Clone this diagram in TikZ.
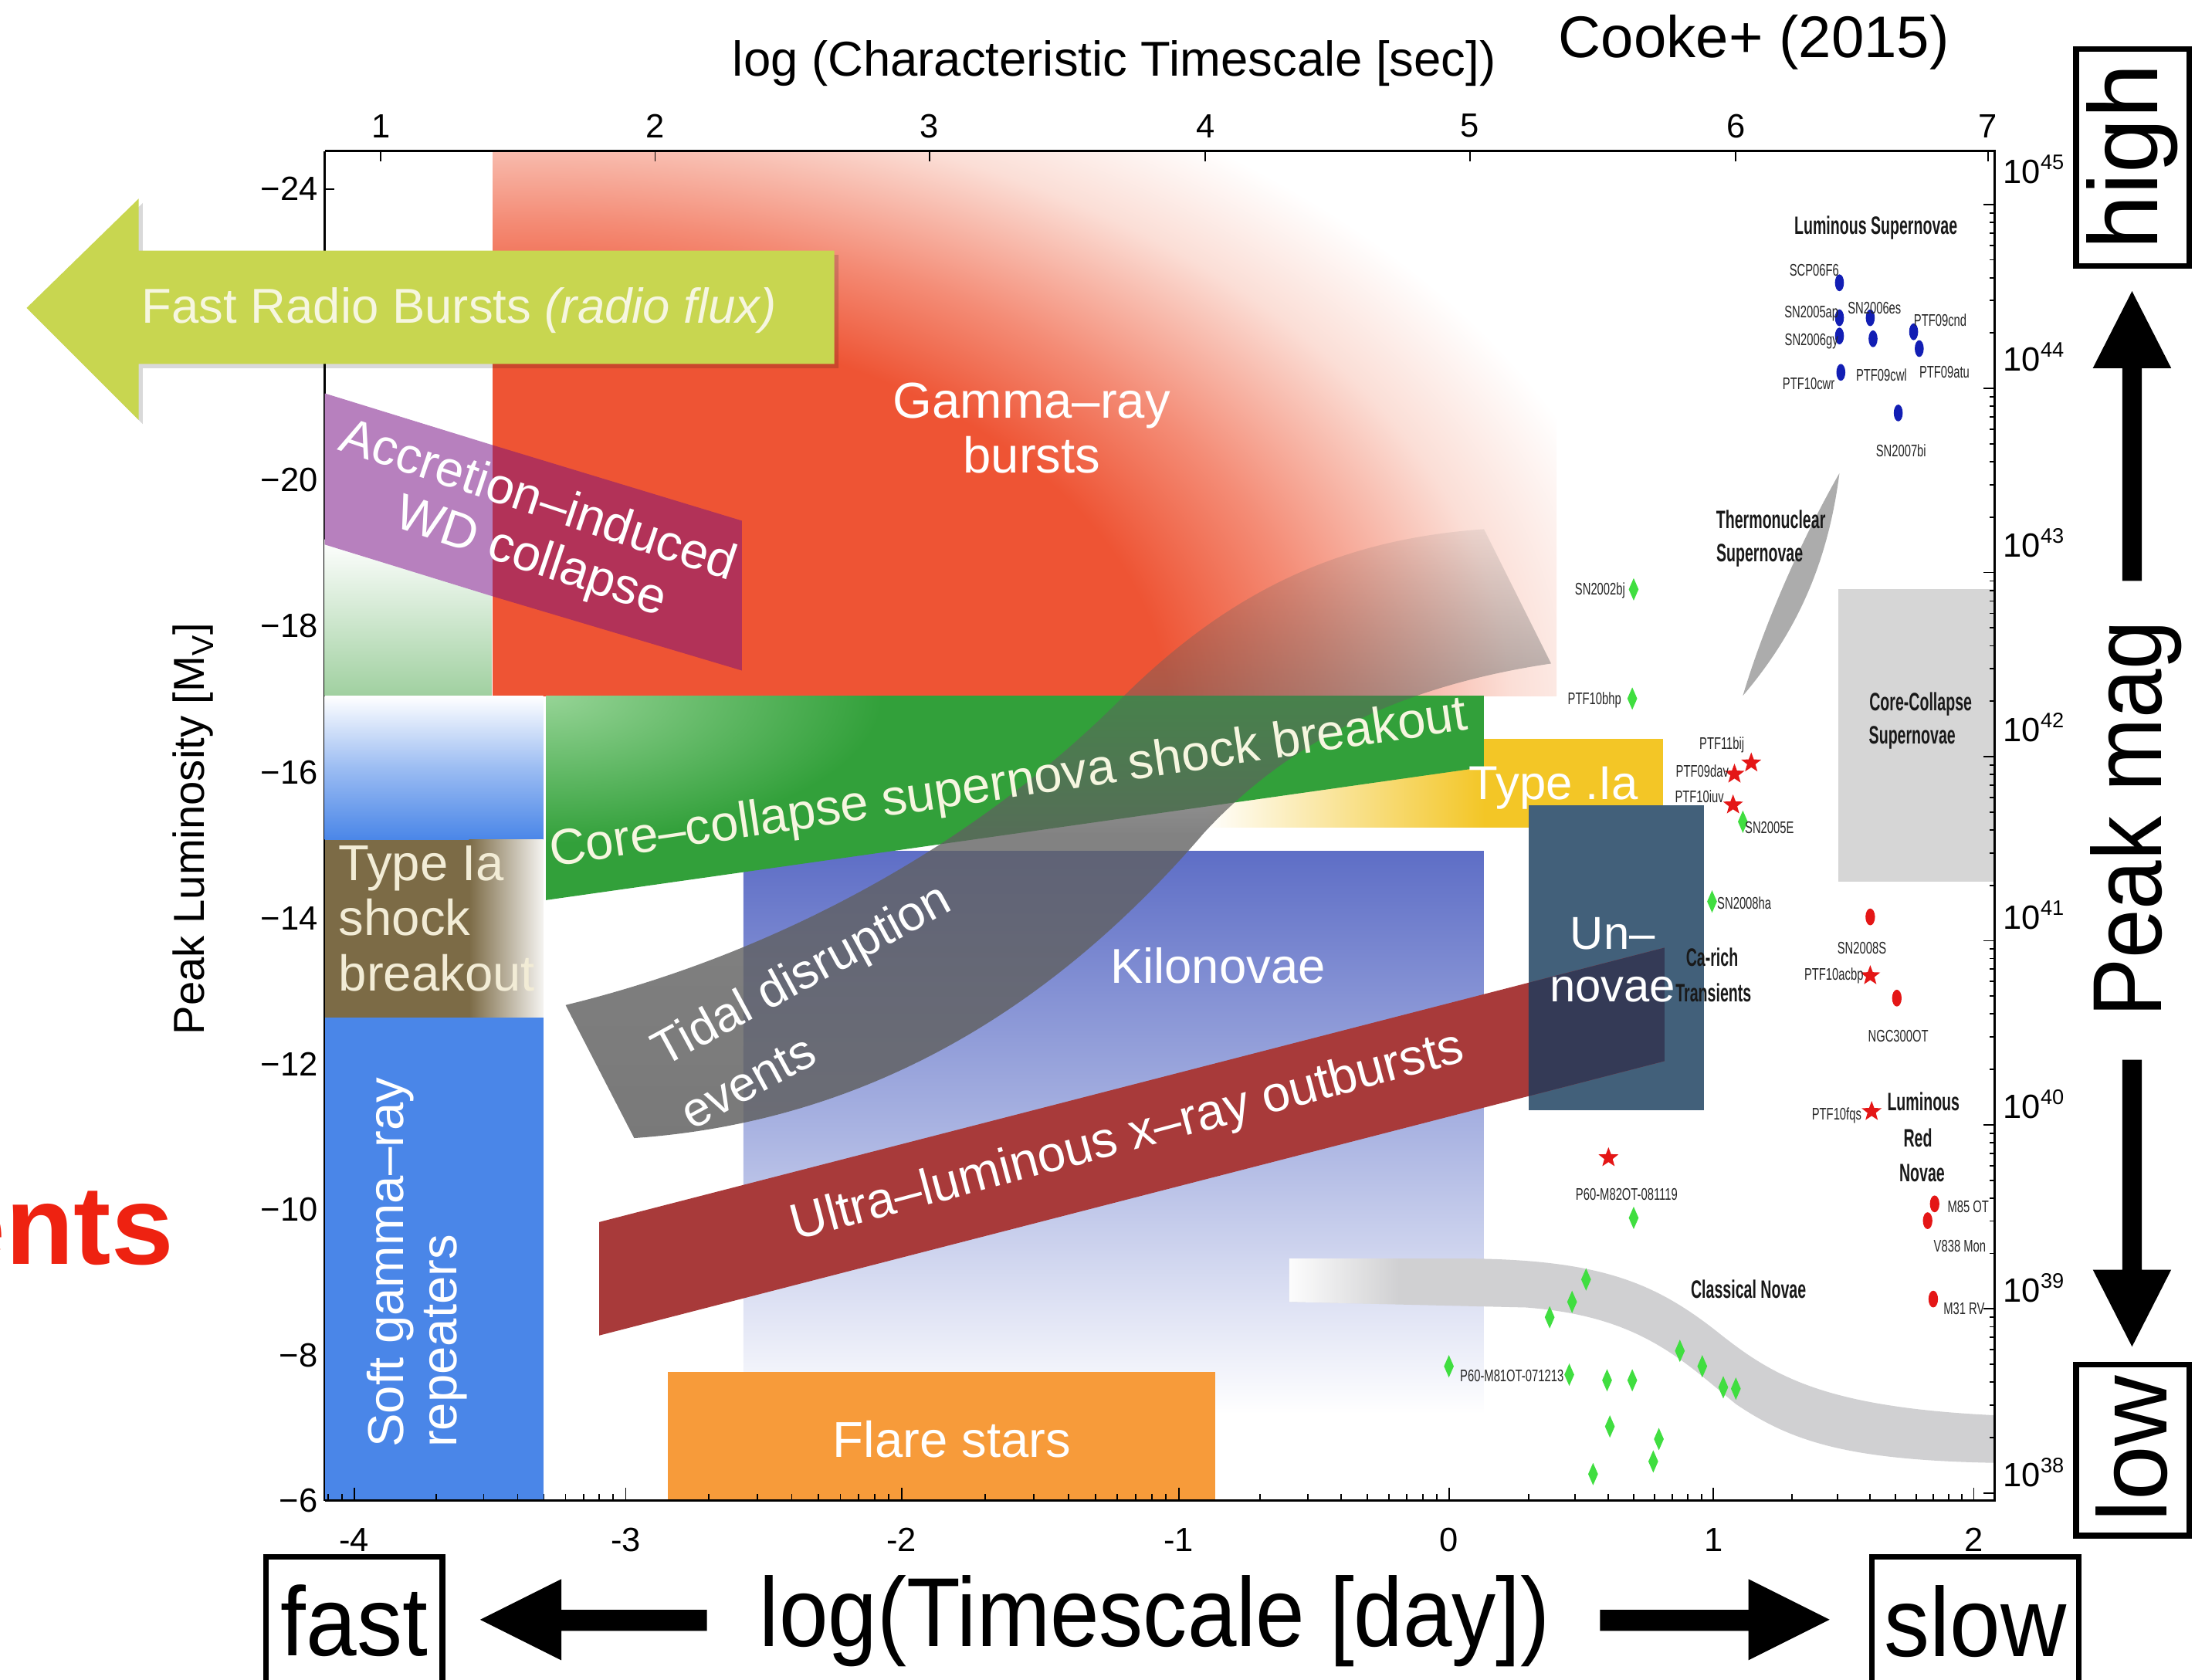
\documentclass[tikz,border=0pt]{standalone}
\usepackage{fontspec}
\setmainfont{Liberation Sans}
\usepackage{graphicx}
\usetikzlibrary{shapes.geometric,fadings}

\definecolor{grbred}{RGB}{238,84,52}
\definecolor{grbmid}{RGB}{244,140,118}
\definecolor{grbpale}{RGB}{251,222,214}
\definecolor{frbgreen}{RGB}{200,214,80}
\definecolor{frbtext}{RGB}{246,246,224}
\definecolor{aicpurple}{RGB}{183,128,190}
\definecolor{aiccrimson}{RGB}{178,50,88}
\definecolor{ccgreen}{RGB}{50,160,58}
\definecolor{ccgreenlt}{RGB}{150,212,150}
\definecolor{leftgreen}{RGB}{160,208,160}
\definecolor{sgrblue}{RGB}{74,134,232}
\definecolor{tiabrown}{RGB}{124,107,70}
\definecolor{tiatext}{RGB}{242,236,214}
\definecolor{kiloblue}{RGB}{94,110,198}
\definecolor{kilomid}{RGB}{170,180,226}
\definecolor{goldIa}{RGB}{243,198,38}
\definecolor{unnova}{RGB}{66,96,122}
\definecolor{unoverlap}{RGB}{52,58,86}
\definecolor{xraybrick}{RGB}{168,58,58}
\definecolor{flareorange}{RGB}{247,155,58}
\definecolor{tdegray}{RGB}{96,96,96}
\definecolor{novagray}{RGB}{208,208,210}
\definecolor{ccgray}{RGB}{214,214,214}
\definecolor{thgray}{RGB}{172,172,172}
\definecolor{dotblue}{RGB}{18,30,180}
\definecolor{dotred}{RGB}{228,22,22}
\definecolor{stargreen}{RGB}{64,222,64}
\definecolor{entsred}{RGB}{238,34,17}

\pgfdeclareradialshading{grbrad}{\pgfpoint{0bp}{0bp}}{color(0bp)=(grbred); color(13.5bp)=(grbred); color(16.7bp)=(grbmid); color(20.8bp)=(grbpale); color(24bp)=(white); color(50bp)=(white)}
\tikzfading[name=tdefade, top color=transparent!90, bottom color=transparent!16, middle color=transparent!22]

\begin{document}
\begin{tikzpicture}[x=1pt,y=-1pt,
  every node/.style={inner sep=0pt, outer sep=0pt},
  blk/.style={text=white, font=\fontsize{36}{39}\selectfont, align=center},
  axnum/.style={font=\fontsize{24}{24}\selectfont, text=black},
  smlab/.style={font=\fontsize{12}{12}\selectfont, text=black!85},
  bdlab/.style={font=\fontsize{18}{18}\selectfont\bfseries, text=black!90},
  bigtxt/.style={font=\fontsize{70}{70}\selectfont, text=black},
  framebox/.style={draw=black, line width=4pt},
  tickline/.style={line width=1pt, black},
  rstar/.style={star, star points=5, star point ratio=2.4, fill=dotred, minimum size=15pt, inner sep=0pt},
]
\useasboundingbox (0,0) rectangle (1568,1200);
\clip (0,0) rectangle (1568,1200);
\fill[white] (0,0) rectangle (1568,1200);

% left axis line and its ticks (under the blocks)
\draw[line width=1.5pt] (232,108) -- (232,1072);
\foreach \y in {135,239,343,447,552,656,760,864,968}
  \draw[tickline] (232,\y) -- ++(7,0);

% Kilonovae
\shade[top color=kiloblue, bottom color=white, middle color=kilomid] (531,608) rectangle (1060,1010);

% Gamma-ray bursts
\begin{scope}
  \clip (352,108) rectangle (1112,497);
  \shade[shading=grbrad] (380,510) ellipse [x radius=840, y radius=528];
\end{scope}

% left column blocks
\shade[top color=white, bottom color=leftgreen] (232,385) rectangle (351,497);
\shade[top color=white, bottom color=sgrblue, middle color=sgrblue!55!white] (232,497) rectangle (388,600);
\fill[tiabrown] (232,600) rectangle (336,727);
\shade[left color=tiabrown, right color=white!92!tiabrown] (335,600) rectangle (388,727);
\fill[sgrblue] (232,727) rectangle (388,1072);

% Type .Ia
\shade[left color=white, right color=goldIa] (860,528) rectangle (1061,591);
\fill[goldIa] (1060,528) rectangle (1188,591);

% Core-collapse shock breakout band
\begin{scope}
  \clip (390,497) -- (1060,497) -- (1060,548) -- (390,643) -- cycle;
  \fill[ccgreen] (390,497) rectangle (1060,643);
  \shade[inner color=ccgreenlt, outer color=ccgreen] (390,497) ellipse [x radius=240, y radius=105];
\end{scope}

% Un-novae and ULX band
\fill[unnova] (1092,575) rectangle (1217,793);
\fill[xraybrick] (428,873) -- (1189,677) -- (1189,758) -- (428,954) -- cycle;
\fill[unoverlap] (1092,702) -- (1189,677) -- (1189,758) -- (1092,783) -- cycle;

% Tidal disruption band
\fill[tdegray, path fading=tdefade]
  (404,718) .. controls (560,680) and (700,600) .. (800,500)
  .. controls (880,420) and (960,385) .. (1060,378) -- (1108,474)
  .. controls (1000,490) and (920,530) .. (860,595)
  .. controls (770,700) and (640,800) .. (453,813) -- cycle;

% Accretion-induced collapse band
\fill[aicpurple] (232,281) -- (352,318) -- (352,426) -- (232,389) -- cycle;
\fill[aiccrimson] (352,318) -- (530,372) -- (530,479) -- (352,426) -- cycle;

% Flare stars
\fill[flareorange] (477,980) rectangle (868,1072);

% Classical novae band
\begin{scope}
  \clip (921,899) -- (1040,899) .. controls (1140,899) and (1180,915) .. (1225,950)
    .. controls (1265,982) and (1300,1005) .. (1425,1011) -- (1425,1045)
    .. controls (1320,1043) and (1280,1030) .. (1240,1003)
    .. controls (1200,970) and (1170,940) .. (1090,934) -- (921,930) -- cycle;
  \fill[novagray] (918,890) rectangle (1430,1050);
  \fill[white, path fading=east] (918,895) rectangle (1000,935);
\end{scope}

% Thermonuclear sliver and core-collapse box
\fill[thgray] (1245,497) .. controls (1262,440) and (1290,380) .. (1314,338)
  .. controls (1306,400) and (1285,450) .. (1245,497) -- cycle;
\fill[ccgray] (1313,421) rectangle (1425,630);

% Fast radio bursts arrow
\fill[black, opacity=0.15] (22,223) -- (102,145) -- (102,182) -- (599,182) -- (599,263) -- (102,263) -- (102,303) -- cycle;
\fill[frbgreen] (19,220) -- (99,142) -- (99,179) -- (596,179) -- (596,260) -- (99,260) -- (99,300) -- cycle;

% ---- block texts ----
\node[blk, text=frbtext, font=\fontsize{35}{35}\selectfont] (frbt) at (328,222) {Fast Radio Bursts \textit{(radio flux)}};
\node[blk] (grbt) at (737,306) {Gamma–ray\\bursts};
\node[blk, rotate=-18.5, anchor=base] (aic1) at (381,368) {Accretion–induced};
\node[blk, rotate=-18.5, anchor=base] (aic2) at (376,408) {WD collapse};
\node[blk, text=frbtext, rotate=8.5, anchor=base] (cct) at (722,570) {Core–collapse supernova shock breakout};
\node[blk, font=\fontsize{34}{34}\selectfont] (tiat) at (1110,563) {Type .Ia};
\node[blk, font=\fontsize{35}{35}\selectfont] (kilot) at (870,690) {Kilonovae};
\node[blk, font=\fontsize{33}{33}\selectfont] (un1) at (1152,667) {Un–};
\node[blk, font=\fontsize{33}{33}\selectfont] (un2) at (1152,707) {novae};
\node[blk, font=\fontsize{35}{35}\selectfont, rotate=28.5, anchor=base] (tde1) at (578,706) {Tidal disruption};
\node[blk, font=\fontsize{35}{35}\selectfont, rotate=28.5, anchor=base] (tde2) at (540,783) {events};
\node[blk, rotate=15, anchor=base] (ulx) at (808,822) {Ultra–luminous x–ray outbursts};
\node[blk] (flt) at (680,1028) {Flare stars};
\node[blk, align=left, rotate=90, anchor=north west, font=\fontsize{36}{38}\selectfont] (sgrt) at (262,1034) {Soft gamma–ray\\repeaters};
\node[blk, align=left, anchor=north west, text=tiatext, font=\fontsize{36}{39.5}\selectfont] (tsb) at (242,604) {Type Ia\\shock\\breakout};

% ---- data points ----
\foreach \x/\y in {1314/202, 1314/227, 1314/240, 1315/266, 1336/227, 1338/242, 1367/237, 1371/249, 1356/295}
  \fill[dotblue] (\x,\y) ellipse [x radius=3.2, y radius=6];
\foreach \x/\y in {1336/655, 1355/713, 1382/860, 1377/872, 1381/928}
  \fill[dotred] (\x,\y) ellipse [x radius=3.4, y radius=6];
\foreach \x/\y [count=\i] in {1167/421, 1166/499, 1245/587, 1223/644, 1167/870, 1133/914, 1123/930, 1107/941, 1035/976, 1121/982, 1148/986, 1166/986, 1200/965, 1216/976, 1231/991, 1240/992, 1150/1019, 1185/1028, 1181/1044, 1138/1053}
  \fill[stargreen] ({\x},{\y-8}) -- ({\x+3.5},{\y}) -- ({\x},{\y+8}) -- ({\x-3.5},{\y}) -- cycle;
\foreach \x/\y [count=\i] in {1251/545, 1239/553, 1238/575, 1336/697, 1337/794, 1149/827}
  \node[rstar] (rs\i) at (\x,\y) {};

% ---- small labels ----
\foreach \x/\y/\t [count=\i] in {1296/193/SCP06F6, 1294/224/SN2005ap, 1294/244/SN2006gy, 1292/274/PTF10cwr,
  1339/220/SN2006es, 1344/268/PTF09cwl, 1386/229/PTF09cnd, 1389/266/PTF09atu, 1358/322/SN2007bi,
  1143/422/SN2002bj, 1139/500/PTF10bhp, 1230/532/PTF11bij, 1216/551/PTF09dav, 1214/569/PTF10iuv,
  1264/591/SN2005E, 1246/645/SN2008ha, 1330/677/SN2008S, 1310/697/PTF10acbp, 1356/740/NGC300OT,
  1312/797/PTF10fqs, 1162/853/P60-M82OT-081119, 1406/862/M85 OT, 1400/890/V838 Mon, 1403/935/M31 RV,
  1080/983/P60-M81OT-071213}
  \node[smlab] (sl\i) at (\x,\y) {\scalebox{0.68}[1]{\t}};

\foreach \x/\y/\t [count=\i] in {1340/163/Luminous Supernovae, 1265/371/Thermonuclear, 1257/397/Supernovae,
  1372/503/Core-Collapse, 1366/527/Supernovae, 1223/684/Ca-rich, 1224/709/Transients,
  1374/787/Luminous, 1370/813/Red, 1373/838/Novae, 1249/921/Classical Novae}
  \node[bdlab] (bl\i) at (\x,\y) {\scalebox{0.6}[1]{\t}};

% ---- frame (top, right, bottom) ----
\draw[line width=1.5pt] (232,108) -- (1425,108) -- (1425,1072) -- (232,1072);

% ticks
\foreach \x in {272,468,664,861,1050,1240,1420}
  \draw[tickline] (\x,108) -- ++(0,7);
\foreach \x in {253,447,644,842,1035,1224,1410}
  \draw[tickline] (\x,1072) -- ++(0,-9);
\foreach \a/\b in {59/253, 253/447, 447/644, 644/842, 842/1035, 1035/1224, 1224/1410}
  \foreach \k in {2,...,9} {
    \pgfmathsetmacro{\xx}{\a+(\b-\a)*log10(\k)}
    \ifdim \xx pt>233pt \draw[tickline] (\xx,1072) -- ++(0,-5); \fi
  }
\foreach \n in {0,...,7}
  \draw[tickline] (1425,{146+131.5*\n}) -- ++(-8,0);
\foreach \n in {0,...,8}
  \foreach \k in {2,...,9} {
    \pgfmathsetmacro{\yy}{146+131.5*\n-131.5*log10(\k)}
    \ifdim \yy pt>110pt \ifdim \yy pt<1071pt \draw[tickline] (1425,\yy) -- ++(-4,0); \fi\fi
  }

% axis numbers
\foreach \y/\t [count=\i] in {135/−24, 343/−20, 447/−18, 552/−16, 656/−14, 760/−12, 864/−10, 968/−8, 1072/−6}
  \node[axnum, anchor=east] (ly\i) at (227,\y) {\t};
\foreach \x/\t [count=\i] in {272/1, 468/2, 664/3, 861/4, 1050/5, 1240/6, 1420/7}
  \node[axnum] (tx\i) at (\x,90) {\t};
\foreach \x/\t [count=\i] in {253/-4, 447/-3, 644/-2, 842/-1, 1035/0, 1224/1, 1410/2}
  \node[axnum] (bx\i) at (\x,1100) {\t};
\foreach \y/\e [count=\i] in {131/45, 265/44, 398/43, 530/42, 664/41, 799/40, 930/39, 1062/38}
  \node[axnum, anchor=base west] (ry\i) at (1431,\y) {10\raisebox{10pt}{\fontsize{15}{15}\selectfont\e}};

% titles
\node[font=\fontsize{35}{35}\selectfont] (ttl) at (796,45) {log (Characteristic Timescale [sec])};
\node[font=\fontsize{42}{42}\selectfont] (cooke) at (1253,30) {Cooke+ (2015)};
\node[font=\fontsize{31}{31}\selectfont, rotate=90] (ylab) at (138,592) {Peak Luminosity [M\textsubscript{V}]};
\node[font=\fontsize{80}{80}\selectfont\bfseries, text=entsred, anchor=base east] (ents) at (124,903) {ents};

% bottom and right annotations
\node[bigtxt] (tsl) at (825,1158) {\scalebox{0.9}[1]{log(Timescale [day])}};
\node[bigtxt] (fast) at (253,1158) {\scalebox{0.93}[1]{fast}};
\node[bigtxt] (slow) at (1411,1158) {\scalebox{0.93}[1]{slow}};
\node[bigtxt, rotate=90] (high) at (1523,112) {high};
\node[bigtxt, rotate=90] (low) at (1523,1035) {low};
\node[bigtxt, rotate=90] (pmag) at (1526,585) {\scalebox{0.9}[1]{Peak mag}};

\draw[framebox] (190,1215) -- (190,1112) -- (316,1112) -- (316,1215);
\draw[framebox] (1337,1215) -- (1337,1112) -- (1485,1112) -- (1485,1215);
\draw[framebox] (1483,35) rectangle (1564,190);
\draw[framebox] (1483,975) rectangle (1564,1097);

\fill (1523,208) -- (1551,263) -- (1530,263) -- (1530,415) -- (1516,415) -- (1516,263) -- (1495,263) -- cycle;
\fill (1523,962) -- (1551,907) -- (1530,907) -- (1530,757) -- (1516,757) -- (1516,907) -- (1495,907) -- cycle;
\fill (343,1157) -- (401,1128) -- (401,1150) -- (505,1150) -- (505,1165) -- (401,1165) -- (401,1186) -- cycle;
\fill (1307,1157) -- (1249,1128) -- (1249,1150) -- (1143,1150) -- (1143,1165) -- (1249,1165) -- (1249,1186) -- cycle;
\end{tikzpicture}
\end{document}
